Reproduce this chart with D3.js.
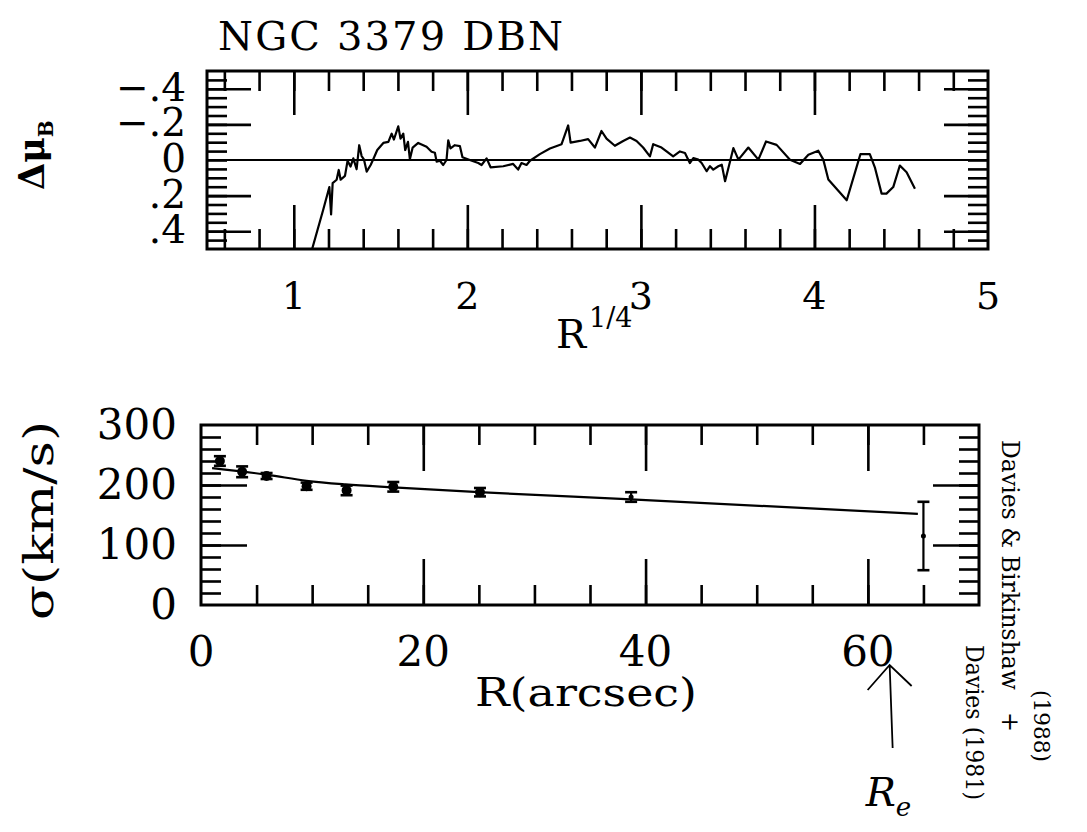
<!DOCTYPE html>
<html>
<head>
<meta charset="utf-8">
<script src="https://cdn.jsdelivr.net/npm/d3@7"></script>
<style>
  html, body { margin: 0; padding: 0; background: #fff; }
  svg { display: block; }
  text { font-family: "DejaVu Serif", serif; fill: #000; }
  .hand { font-family: "DejaVu Sans Condensed", "DejaVu Sans", sans-serif; }
</style>
</head>
<body>
<div id="chart"></div>
<script>
'use strict'

// top panel: residual surface brightness against R^(1/4)
var muR = [1.100, 1.170, 1.205, 1.215, 1.224, 1.247, 1.259, 1.270, 1.295, 1.310,
  1.327, 1.343, 1.362, 1.377, 1.391, 1.404, 1.420, 1.443, 1.458, 1.481,
  1.516, 1.545, 1.564, 1.577, 1.602, 1.615, 1.631, 1.642, 1.658, 1.669,
  1.685, 1.717, 1.765, 1.794, 1.813, 1.823, 1.842, 1.861, 1.880, 1.890,
  1.903, 1.928, 1.957, 1.972, 2.014, 2.063, 2.082, 2.111, 2.134, 2.207,
  2.264, 2.293, 2.312, 2.341, 2.361, 2.418, 2.476, 2.543, 2.581, 2.595,
  2.648, 2.696, 2.735, 2.773, 2.802, 2.850, 2.898, 2.937, 2.975, 3.013,
  3.052, 3.071, 3.119, 3.148, 3.186, 3.225, 3.254, 3.282, 3.302, 3.331,
  3.350, 3.379, 3.398, 3.417, 3.446, 3.466, 3.485, 3.514, 3.533, 3.562,
  3.619, 3.677, 3.721, 3.782, 3.859, 3.917, 3.965, 4.022, 4.051, 4.080,
  4.186, 4.265, 4.319, 4.348, 4.387, 4.415, 4.454, 4.492, 4.531, 4.579];
var muDelta = [0.52, 0.278, 0.152, 0.306, 0.130, 0.111, 0.056, 0.111, 0.089, 0.004,
  0.037, -0.009, 0.052, -0.083, -0.022, -0.004, 0.065, 0.028, -0.004, -0.056,
  -0.096, -0.102, -0.148, -0.115, -0.189, -0.120, -0.148, -0.056, -0.102, -0.004,
  -0.070, -0.096, -0.074, -0.046, -0.041, 0.009, 0.004, 0.028, 0.000, -0.111,
  -0.065, -0.083, -0.078, -0.015, 0.000, 0.017, 0.028, -0.009, 0.041, 0.035,
  0.022, 0.054, 0.017, 0.028, 0.004, -0.033, -0.065, -0.089, -0.194, -0.098,
  -0.107, -0.117, -0.070, -0.163, -0.120, -0.080, -0.107, -0.126, -0.107, -0.070,
  -0.020, -0.089, -0.070, -0.048, -0.020, -0.048, -0.039, 0.017, -0.011, -0.002,
  0.017, 0.063, 0.035, 0.054, 0.035, 0.026, 0.119, 0.007, -0.067, -0.002,
  -0.070, -0.002, -0.104, -0.085, -0.002, 0.022, -0.030, -0.052, -0.002, 0.109,
  0.226, -0.033, -0.033, 0.041, 0.189, 0.189, 0.152, 0.031, 0.069, 0.161];
var muXTicks = [1, 2, 3, 4, 5];
var muYTicks = [-0.4, -0.2, 0, 0.2, 0.4];
var muYTickLabels = ["\u2212.4", "\u2212.2", "0", ".2", ".4"];

// bottom panel: velocity dispersion against radius
var sigR = [1.7, 3.7, 5.9, 9.5, 13.1, 17.3, 25.1, 38.7, 65.0];
var sigVal = [240, 222, 215, 198, 191, 197, 188, 180, 115];
var sigErr = [8, 9, 5, 6, 8, 8, 7, 8, 57];
var fitR = [1.0, 6.0, 9.5, 13.0, 17.3, 25.0, 38.7, 64.5];
var fitSigma = [228, 217, 207, 201, 196, 188, 176, 152];
var sigXTicks = [0, 20, 40, 60];
var sigYTicks = [0, 100, 200, 300];
var reR = 62.5;

var svg = d3.select("#chart").append("svg")
    .attr("width", 1087)
    .attr("height", 832);

//draws the inward tick marks on all four sides plus the box
function drawFrame(g, x, y, minorX, majorX, minorY, majorY, shortLen, longLen){
    var xr = x.range(), yr = y.range();
    var left = Math.min(xr[0], xr[1]), right = Math.max(xr[0], xr[1]);
    var top = Math.min(yr[0], yr[1]), bottom = Math.max(yr[0], yr[1]);

    var sets = [
        [d3.axisBottom(x), "translate(0," + bottom + ")", minorX, shortLen],
        [d3.axisBottom(x), "translate(0," + bottom + ")", majorX, longLen],
        [d3.axisTop(x), "translate(0," + top + ")", minorX, shortLen],
        [d3.axisTop(x), "translate(0," + top + ")", majorX, longLen],
        [d3.axisLeft(y), "translate(" + left + ",0)", minorY, shortLen],
        [d3.axisLeft(y), "translate(" + left + ",0)", majorY, longLen],
        [d3.axisRight(y), "translate(" + right + ",0)", minorY, shortLen],
        [d3.axisRight(y), "translate(" + right + ",0)", majorY, longLen]
    ];
    sets.forEach(function(s){
        var a = g.append("g")
            .attr("transform", s[1])
            .call(s[0].tickValues(s[2]).tickSize(-s[3]).tickFormat(""));
        a.select(".domain").remove();
        a.selectAll("line").attr("stroke", "#000").attr("stroke-width", 2.6);
    });

    g.append("rect")
        .attr("x", left).attr("y", top)
        .attr("width", right - left).attr("height", bottom - top)
        .attr("fill", "none")
        .attr("stroke", "#000")
        .attr("stroke-width", 3);
}

// ---------- top panel ----------
var xTop = d3.scaleLinear().domain([0.5, 5]).range([207, 988]);
var yTop = d3.scaleLinear().domain([-0.5, 0.5]).range([71, 249]);
var gTop = svg.append("g");

svg.append("clipPath").attr("id", "clipTop")
    .append("rect")
    .attr("x", 207).attr("y", 71).attr("width", 781).attr("height", 178);

drawFrame(gTop, xTop, yTop,
    d3.range(3, 25).map(function(i){ return i / 5; }),
    [1, 2, 3, 4],
    d3.range(-9, 10).map(function(i){ return i / 20; }),
    [-0.4, -0.2, 0.2, 0.4],
    20, 44);

gTop.append("line")
    .attr("x1", xTop(0.5)).attr("x2", xTop(5))
    .attr("y1", yTop(0)).attr("y2", yTop(0))
    .attr("stroke", "#000").attr("stroke-width", 2.2);

gTop.append("path")
    .datum(d3.zip(muR, muDelta))
    .attr("clip-path", "url(#clipTop)")
    .attr("fill", "none")
    .attr("stroke", "#000")
    .attr("stroke-width", 2.2)
    .attr("stroke-linejoin", "round")
    .attr("d", d3.line()
        .x(function(d){ return xTop(d[0]); })
        .y(function(d){ return yTop(d[1]); }));

gTop.selectAll(".xlab")
    .data(muXTicks).enter()
    .append("text")
    .attr("x", function(d){ return xTop(d); })
    .attr("y", 309)
    .attr("text-anchor", "middle")
    .attr("font-size", 38)
    .text(function(d){ return d; });

gTop.selectAll(".ylab")
    .data(muYTicks).enter()
    .append("text")
    .attr("x", 186)
    .attr("y", function(d){ return yTop(d) + 12; })
    .attr("text-anchor", "end")
    .attr("font-size", 39)
    .text(function(d, i){ return muYTickLabels[i]; });

svg.append("text")
    .attr("x", 218).attr("y", 50)
    .attr("font-size", 40)
    .attr("textLength", 345)
    .attr("lengthAdjust", "spacing")
    .text("NGC 3379 DBN");

var rq = svg.append("text")
    .attr("x", 556).attr("y", 348)
    .attr("font-size", 40);
rq.append("tspan").text("R");
rq.append("tspan").attr("x", 589).attr("y", 327).attr("font-size", 27).text("1/4");

var dmu = svg.append("text")
    .attr("transform", "translate(44,190) rotate(-90)")
    .attr("font-size", 35)
    .attr("font-weight", "bold");
dmu.append("tspan").text("\u0394\u03bc");
dmu.append("tspan").attr("font-size", 20).attr("dy", 9).text("B");

// ---------- bottom panel ----------
var xBot = d3.scaleLinear().domain([0, 70]).range([201, 979]);
var yBot = d3.scaleLinear().domain([0, 300]).range([605, 425]);
var gBot = svg.append("g");

drawFrame(gBot, xBot, yBot,
    d3.range(5, 70, 5),
    [20, 40, 60],
    d3.range(20, 300, 20),
    [100, 200],
    20, 46);

gBot.append("path")
    .datum(d3.zip(fitR, fitSigma))
    .attr("fill", "none")
    .attr("stroke", "#000")
    .attr("stroke-width", 2.2)
    .attr("d", d3.line()
        .curve(d3.curveMonotoneX)
        .x(function(d){ return xBot(d[0]); })
        .y(function(d){ return yBot(d[1]); }));

var pts = gBot.selectAll(".pt")
    .data(d3.range(sigR.length)).enter()
    .append("g")
    .attr("transform", function(i){ return "translate(" + xBot(sigR[i]) + ",0)"; });

pts.append("line")
    .attr("y1", function(i){ return yBot(sigVal[i] - sigErr[i]); })
    .attr("y2", function(i){ return yBot(sigVal[i] + sigErr[i]); })
    .attr("stroke", "#000").attr("stroke-width", 2.2);
[-1, 1].forEach(function(sgn){
    pts.append("line")
        .attr("x1", -6).attr("x2", 6)
        .attr("y1", function(i){ return yBot(sigVal[i] + sgn * sigErr[i]); })
        .attr("y2", function(i){ return yBot(sigVal[i] + sgn * sigErr[i]); })
        .attr("stroke", "#000").attr("stroke-width", 2.6);
});
pts.append("circle")
    .attr("cy", function(i){ return yBot(sigVal[i]); })
    .attr("r", function(i){ return i < 7 ? 5 : 2.5; })
    .attr("fill", "#000");

gBot.selectAll(".xlab")
    .data(sigXTicks).enter()
    .append("text")
    .attr("x", function(d){ return xBot(d); })
    .attr("y", 666)
    .attr("text-anchor", "middle")
    .attr("font-size", 42)
    .text(function(d){ return d; });

gBot.selectAll(".ylab")
    .data(sigYTicks).enter()
    .append("text")
    .attr("x", 177)
    .attr("y", function(d){ return yBot(d) + 14; })
    .attr("text-anchor", "end")
    .attr("font-size", 42)
    .text(function(d){ return d; });

svg.append("text")
    .attr("x", 475).attr("y", 706)
    .attr("font-size", 40)
    .attr("textLength", 222)
    .attr("lengthAdjust", "spacingAndGlyphs")
    .text("R(arcsec)");

svg.append("text")
    .attr("transform", "translate(53,620) rotate(-90)")
    .attr("font-size", 41)
    .attr("textLength", 199)
    .attr("lengthAdjust", "spacingAndGlyphs")
    .text("\u03c3(km/s)");

// ---------- handwritten notes ----------
var hand = svg.append("g").attr("class", "hand");

var tipX = xBot(reR) - 6;
hand.append("path")
    .attr("d", "M" + (tipX + 3) + ",748 L" + tipX + ",665 M" + (tipX - 22) + ",690 L" + tipX + ",665 L" + (tipX + 22) + ",686")
    .attr("fill", "none")
    .attr("stroke", "#000")
    .attr("stroke-width", 1.8);

var re = hand.append("text")
    .attr("x", tipX - 24).attr("y", 806)
    .attr("font-size", 40)
    .attr("font-style", "italic");
re.append("tspan").text("R");
re.append("tspan").attr("font-size", 26).attr("dy", 10).text("e");

hand.append("text")
    .attr("transform", "translate(1002,440) rotate(90)")
    .attr("font-size", 25)
    .attr("textLength", 250)
    .attr("lengthAdjust", "spacingAndGlyphs")
    .text("Davies & Birkinshaw");

hand.append("text")
    .attr("transform", "translate(1002,712) rotate(90)")
    .attr("font-size", 24)
    .text("+");

hand.append("text")
    .attr("transform", "translate(1034,690) rotate(90)")
    .attr("font-size", 23)
    .attr("textLength", 72)
    .attr("lengthAdjust", "spacingAndGlyphs")
    .text("(1988)");

hand.append("text")
    .attr("transform", "translate(966,645) rotate(90)")
    .attr("font-size", 25)
    .attr("textLength", 155)
    .attr("lengthAdjust", "spacingAndGlyphs")
    .text("Davies (1981)");
</script>
</body>
</html>
